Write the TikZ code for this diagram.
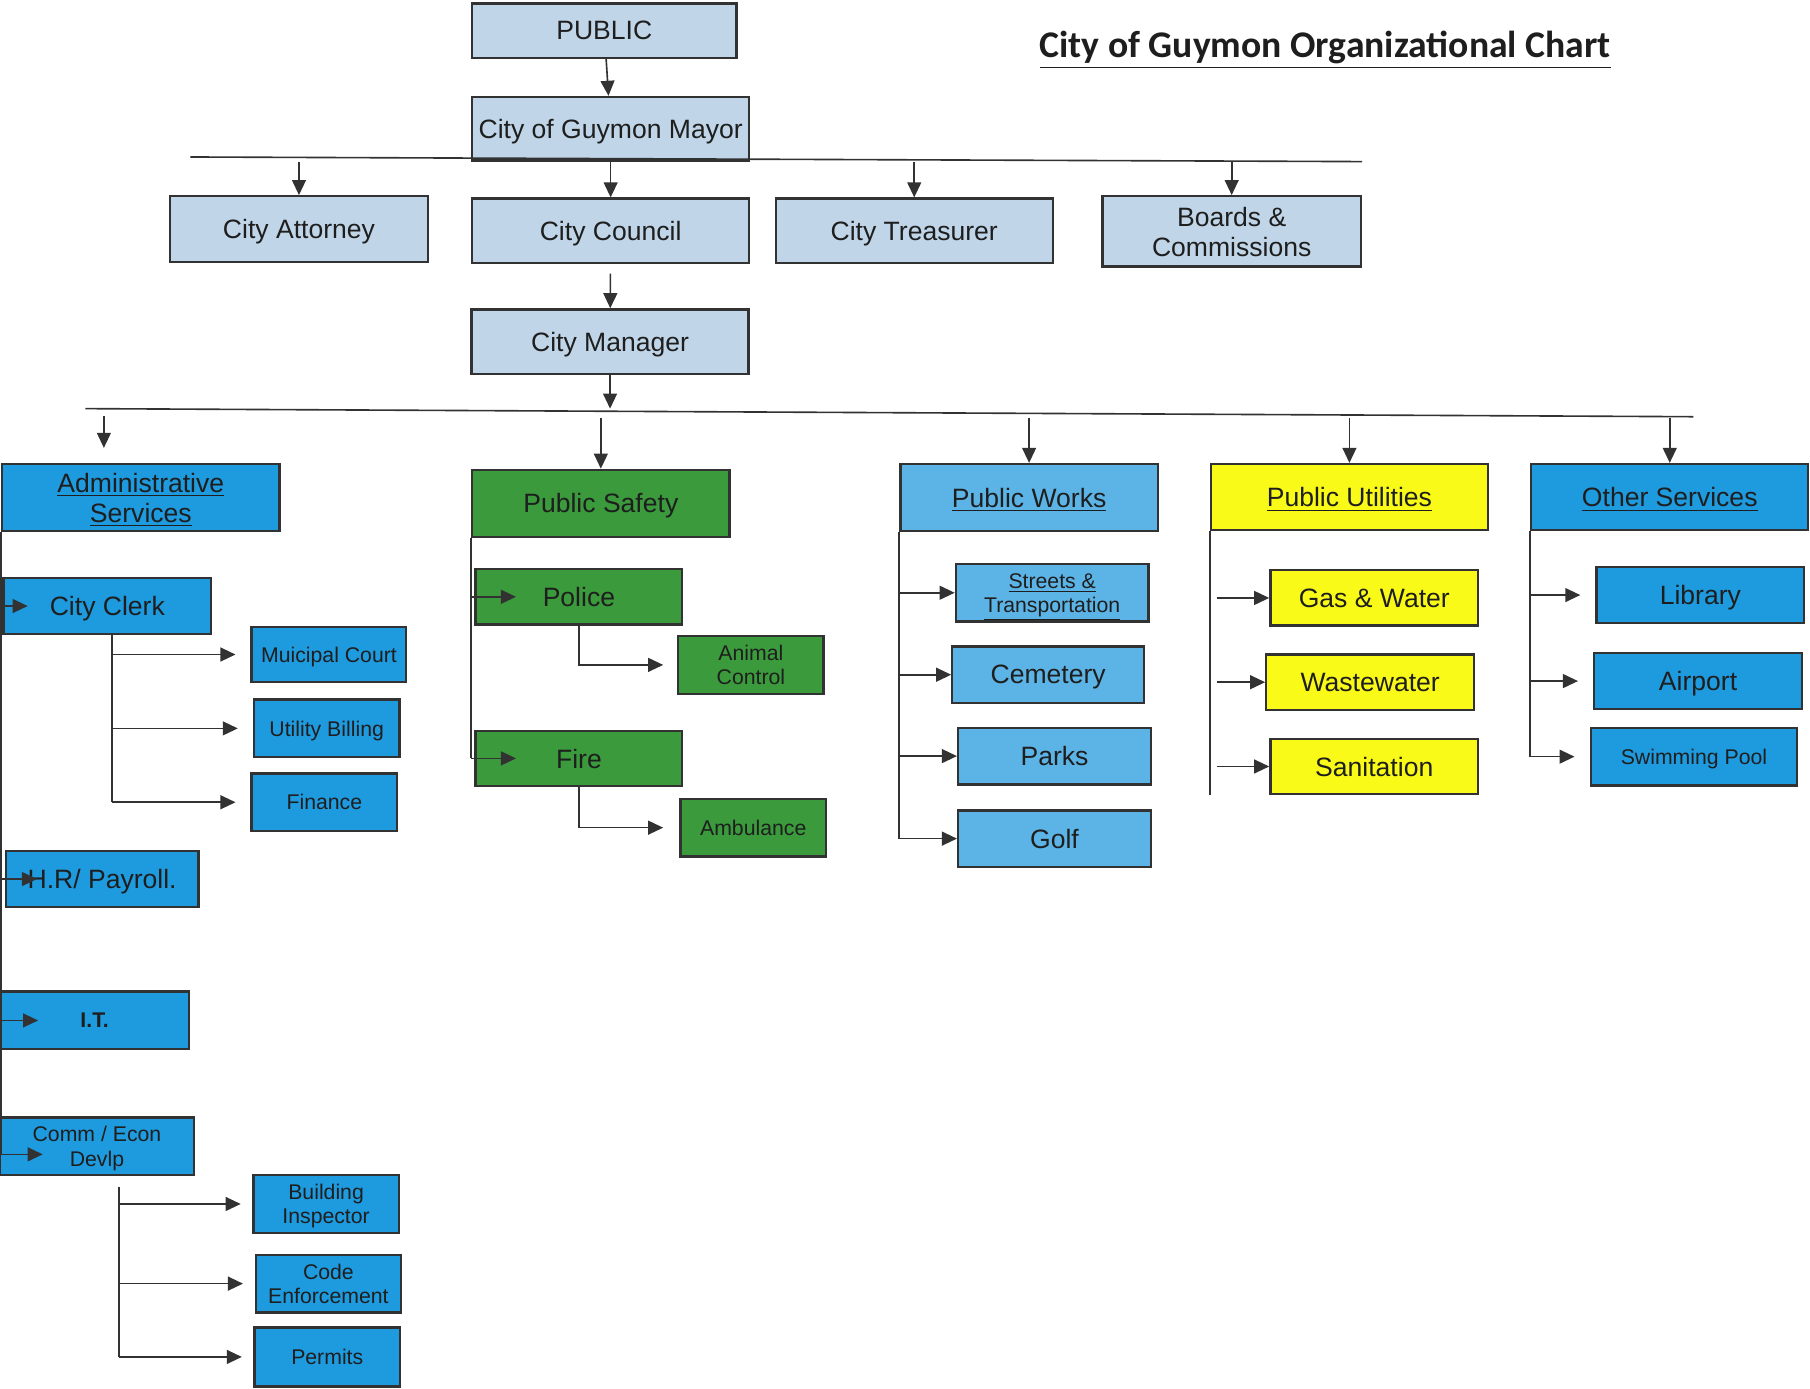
\documentclass[tikz,border=0pt]{standalone}
\usepackage{fontspec}
\setmainfont{Liberation Sans}
\newfontfamily\titlefont{Carlito}
\usepackage{tikz}
\usetikzlibrary{arrows.meta}
\definecolor{toplight}{RGB}{192,214,232}
\definecolor{adminblue}{RGB}{30,154,222}
\definecolor{workblue}{RGB}{92,180,230}
\definecolor{safegreen}{RGB}{58,154,60}
\definecolor{utilyellow}{RGB}{250,250,25}
\definecolor{edgegray}{RGB}{50,50,50}
\definecolor{inkgray}{RGB}{30,30,30}
\newcommand{\bigtxt}{\fontsize{11.5}{13}\selectfont}
\newcommand{\smalltxt}{\fontsize{9.2}{10.5}\selectfont}
\tikzset{
    orgbox/.style={draw=edgegray, line width=1pt, inner sep=0pt, align=center, text=inkgray, text depth=0pt, font=\bigtxt},
    topbox/.style={orgbox, fill=toplight, minimum width=120pt, minimum height=28pt},
    adminbox/.style={orgbox, fill=adminblue, minimum width=90pt, minimum height=24.5pt},
    safebox/.style={orgbox, fill=safegreen, minimum width=89.5pt, minimum height=24pt},
    workbox/.style={orgbox, fill=workblue, minimum width=83.5pt, minimum height=24.5pt},
    utilbox/.style={orgbox, fill=utilyellow, minimum width=90pt, minimum height=24pt},
    headbox/.style={minimum width=120pt, minimum height=29pt},
    subbox/.style={font=\smalltxt, minimum width=63pt, minimum height=25pt},
    link/.style={draw=edgegray, line width=0.7pt},
    branch/.style={link, -{Triangle[length=6.5pt, width=6pt]}},
}
\begin{document}
\begin{tikzpicture}[x=0.5pt, y=-0.5pt]
	\path[fill=white, use as bounding box] (0,0) rectangle (1568,1203);
	\node[text=inkgray, font=\titlefont\bfseries\fontsize{16.3}{18}\selectfont] (title) at (1148,43) {\underline{City of Guymon Organizational Chart}};
	% top of the chart
	\node[topbox, minimum width=114.5pt, minimum height=23.5pt] (pub) at (523.5,26.5) {PUBLIC};
	\node[topbox, minimum height=27.5pt] (mayor) at (529,111.5) {City of Guymon Mayor};
	\node[topbox, minimum width=112pt, minimum height=28.5pt] (atty) at (259,198.5) {City Attorney};
	\node[topbox] (council) at (529,200) {City Council};
	\node[topbox] (treas) at (792,200) {City Treasurer};
	\node[topbox, minimum width=112pt, minimum height=30.5pt] (boards) at (1067,200.5) {Boards \&\\Commissions};
	\node[topbox] (manager) at (528.5,296) {City Manager};
	\coordinate (busA) at (165,136);
	\coordinate (busB) at (1180,140);
	\draw[link] (busA) -- (busB);
	\draw[branch] (pub) -- (mayor);
	\foreach \n in {atty,council,treas,boards}
		\draw[branch, shorten <=2pt] (\n.north |- busA) -- (\n.north);
	\draw[branch, shorten <=4pt] (council) -- (manager);
	\coordinate (busC) at (74,354);
	\coordinate (busD) at (1467,361);
	\draw[link] (busC) -- (busD);
	\draw[branch] (manager.south) -- (manager.south |- busC);
	% departments
	\node[adminbox, headbox] (admin) at (122,431) {\underline{Administrative}\\\underline{Services}};
	\node[safebox, headbox, minimum width=111.5pt] (safety) at (520.5,436) {Public Safety};
	\node[workbox, headbox, minimum width=111.5pt] (works) at (891.5,431) {\underline{Public Works}};
	\node[utilbox, headbox, minimum height=28.5pt] (utils) at (1169,430.5) {\underline{Public Utilities}};
	\node[adminbox, headbox, minimum height=28.5pt] (other) at (1446.5,430.5) {\underline{Other Services}};
	\coordinate (admintip) at (90,388);
	\draw[branch, shorten <=3pt] (admintip |- busC) -- (admintip);
	\foreach \n in {safety,works,utils,other}
		\draw[branch, shorten <=4pt] (\n.north |- busC) -- (\n.north);
	% administrative services
	\node[adminbox] (clerk) at (93,525) {City Clerk};
	\node[adminbox, subbox, minimum width=67pt, minimum height=24pt] (court) at (285,567) {Muicipal Court};
	\node[adminbox, subbox] (billing) at (283,631) {Utility Billing};
	\node[adminbox, subbox] (finance) at (281,695) {Finance};
	\node[adminbox, minimum width=83.5pt] (hr) at (88.5,761.5) {H.R/ Payroll.};
	\node[adminbox, minimum width=82pt, minimum height=25pt, font=\smalltxt\bfseries] (it) at (82,884) {I.T.};
	\node[adminbox, subbox, minimum width=84pt] (comm) at (84,993) {Comm / Econ\\Devlp};
	\node[adminbox, subbox] (bldg) at (282.5,1043) {Building\\Inspector};
	\node[adminbox, subbox] (code) at (284.5,1112) {Code\\Enforcement};
	\node[adminbox, subbox, minimum height=25.5pt] (permits) at (283.5,1175.5) {Permits};
	\coordinate (commtip) at ([xshift=19pt, yshift=-3.5pt]comm.west);
	\draw[link] (admin.south west) -- (admin.south west |- commtip);
	\draw[branch] (admin.south west |- clerk.west) -- ([xshift=11pt]clerk.west);
	\draw[branch] (admin.south west |- hr.west) -- ([xshift=14pt]hr.west);
	\draw[branch] (admin.south west |- it.west) -- ([xshift=17pt]it.west);
	\draw[branch] (admin.south west |- commtip) -- (commtip);
	\coordinate (clerkdrop) at ([xshift=2pt]clerk.south);
	\draw[link] (clerkdrop) -- (clerkdrop |- finance.west);
	\foreach \n in {court,billing,finance}
		\draw[branch, shorten >=6.5pt] (clerkdrop |- \n.west) -- (\n.west);
	\coordinate (commdrop) at (103,1028);
	\draw[link] (commdrop) -- (commdrop |- permits.west);
	\foreach \n in {bldg,code,permits}
		\draw[branch, shorten >=5pt] (commdrop |- \n.west) -- (\n.west);
	% public safety
	\node[safebox] (police) at (501.5,517) {Police};
	\node[safebox, subbox] (animal) at (650.5,576) {Animal\\Control};
	\node[safebox] (fire) at (501.5,657) {Fire};
	\node[safebox, subbox] (amb) at (652.5,717) {Ambulance};
	\draw[link] (safety.south west) -- (safety.south west |- fire.west);
	\foreach \n in {police,fire}
		\draw[branch] (safety.south west |- \n.west) -- ([xshift=18pt]\n.west);
	\draw[branch, shorten >=6pt] (police.south) |- (animal.west);
	\draw[branch, shorten >=7pt] (fire.south) |- (amb.west);
	% public works
	\node[workbox, subbox, minimum width=83.5pt] (streets) at (911.5,513.5) {\underline{Streets \&}\\\underline{Transportation}};
	\node[workbox, minimum width=83pt] (cemetery) at (908,584.5) {Cemetery};
	\node[workbox] (parks) at (913.5,655) {Parks};
	\node[workbox] (golf) at (913.5,726.5) {Golf};
	\draw[link] (works.south west) -- (works.south west |- golf.west);
	\foreach \n in {streets,cemetery,parks,golf}
		\draw[branch] (works.south west |- \n.west) -- (\n.west);
	% public utilities
	\node[utilbox] (gas) at (1190.5,518) {Gas \& Water};
	\node[utilbox] (waste) at (1187,591) {Wastewater};
	\node[utilbox] (sanit) at (1190.5,664) {Sanitation};
	\draw[link] (utils.south west) -- (utils.south west |- sanit.south);
	\foreach \n in {gas,waste,sanit}
		\draw[branch, shorten <=3pt] (utils.south west |- \n.west) -- (\n.west);
	% other services
	\node[adminbox] (library) at (1473,515.5) {Library};
	\node[adminbox] (airport) at (1471,590) {Airport};
	\node[adminbox, subbox, minimum width=89.5pt] (pool) at (1467.5,655.5) {Swimming Pool};
	\draw[link] (other.south west) -- (other.south west |- pool.west);
	\foreach \n in {library,airport,pool}
		\draw[branch, shorten >=6.5pt] (other.south west |- \n.west) -- (\n.west);
\end{tikzpicture}
\end{document}
